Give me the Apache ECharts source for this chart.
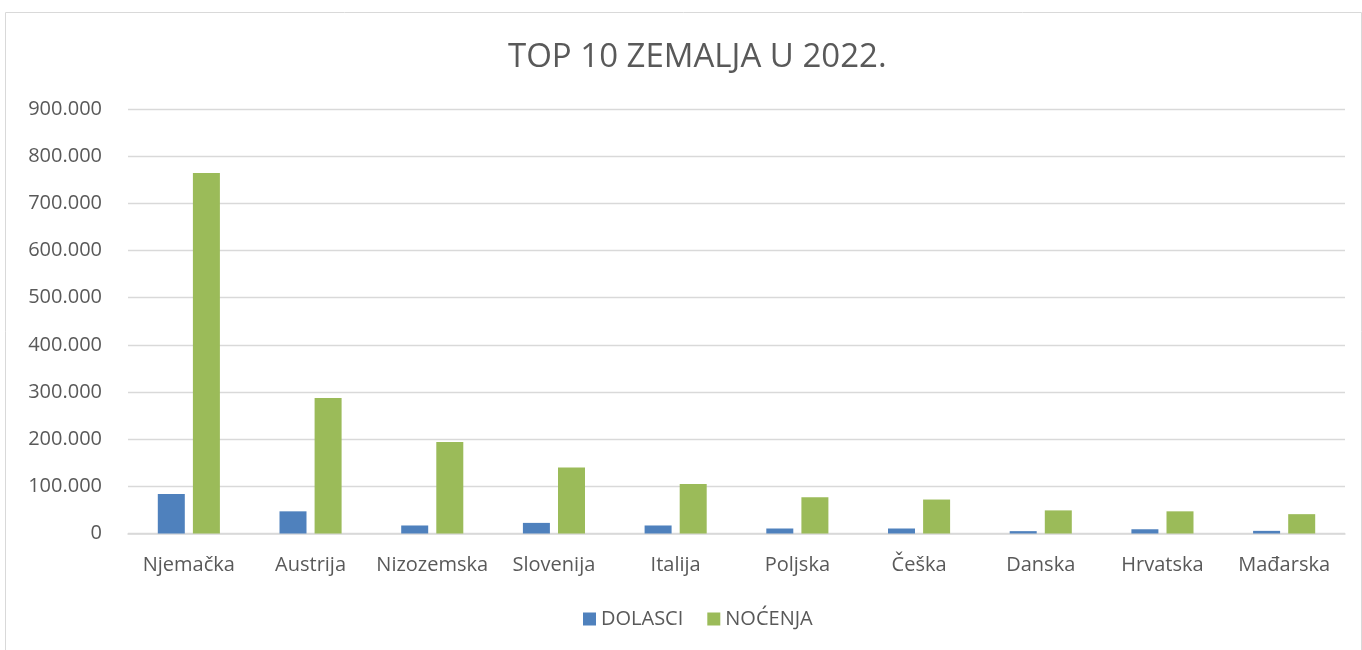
<!DOCTYPE html>
<html>
<head>
<meta charset="utf-8">
<script src="https://cdn.jsdelivr.net/npm/echarts@6/dist/echarts.min.js"></script>
<style>html,body{margin:0;padding:0;background:#fff;}#c{width:1362px;height:650px;}</style>
</head>
<body>
<div id="c"></div>
<script>
const categories = ['Njemačka','Austrija','Nizozemska','Slovenija','Italija','Poljska','Češka','Danska','Hrvatska','Mađarska'];
const dolasci = [84000, 47000, 17000, 22500, 17000, 10600, 10600, 5000, 9000, 5600];
const nocenja = [764500, 287500, 194000, 140000, 105000, 77000, 72000, 49000, 47000, 41000];
const seriesNames = ['DOLASCI', 'NOĆENJA'];
const titleText = 'TOP 10 ZEMALJA U 2022.';

const fmt = v => String(Math.round(v)).replace(/\B(?=(\d{3})+(?!\d))/g, '.');
const font = '"Open Sans", "Noto Sans", sans-serif';
const chart = echarts.init(document.getElementById('c'));
chart.setOption({
  animation: false,
  textStyle: { fontFamily: font },
  graphic: [{
    type: 'rect', left: 3, top: 10,
    shape: { width: 1356, height: 645 },
    style: { fill: 'none', stroke: '#d9d9d9', lineWidth: 1 }
  }],
  title: {
    text: titleText, left: 503, top: 36,
    textStyle: { fontFamily: font, fontSize: 33, fontWeight: 'normal', color: '#595959' }
  },
  legend: {
    bottom: 16, left: 578, itemWidth: 13, itemHeight: 13, itemGap: 24,
    icon: 'rect',
    textStyle: { fontFamily: font, fontSize: 20, color: '#595959' },
    data: seriesNames
  },
  grid: { left: 128, right: 17, top: 109, bottom: 116.5, containLabel: false },
  xAxis: {
    type: 'category', data: categories,
    axisLine: { lineStyle: { color: '#d9d9d9', width: 1.5 } },
    axisTick: { show: false },
    axisLabel: { fontFamily: font, fontSize: 20, color: '#595959', margin: 22, interval: 0 }
  },
  yAxis: {
    type: 'value', min: 0, max: 900000, interval: 100000,
    axisLine: { show: false }, axisTick: { show: false },
    splitLine: { lineStyle: { color: '#d9d9d9', width: 1.3 } },
    axisLabel: { fontFamily: font, fontSize: 20, color: '#595959', margin: 26, formatter: fmt }
  },
  series: [
    { name: seriesNames[0], type: 'bar', data: dolasci, barWidth: 27, barGap: '30%',
      itemStyle: { color: '#4f81bd' } },
    { name: seriesNames[1], type: 'bar', data: nocenja, barWidth: 27, barGap: '30%',
      itemStyle: { color: '#9bbb59' } }
  ]
});
</script>
</body>
</html>
